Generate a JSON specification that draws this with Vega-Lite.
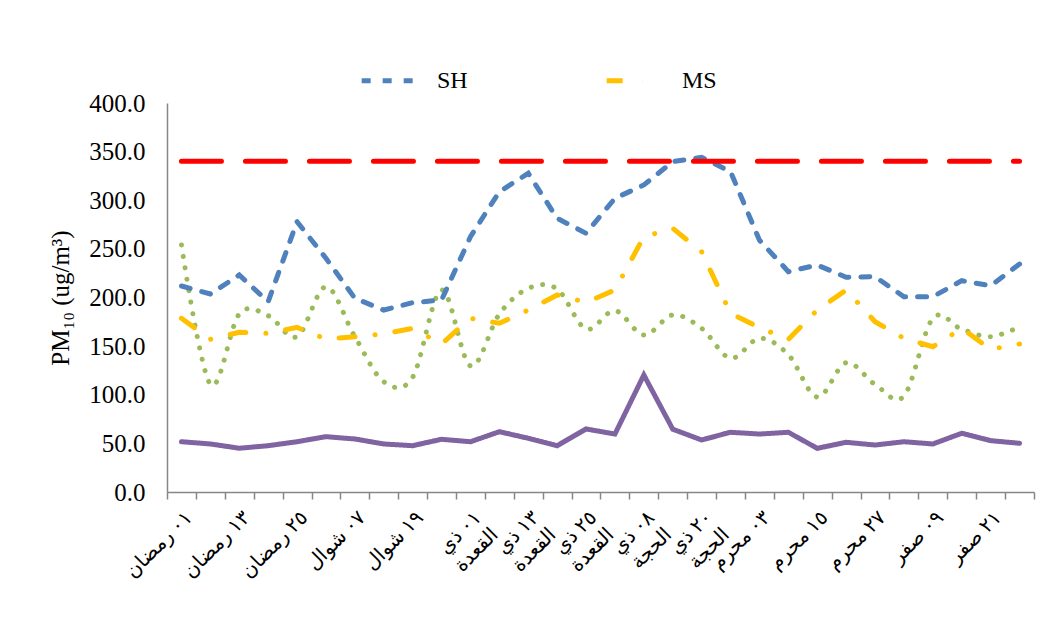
{
  "$schema": "https://vega.github.io/schema/vega-lite/v6.json",
  "width": 867,
  "height": 389,
  "autosize": {"type": "none"},
  "padding": {"left": 167, "top": 103, "right": 24, "bottom": 134},
  "background": "white",
  "config": {"view": {"stroke": null}, "font": "Liberation Serif"},
  "data": {
    "values": [
      {"date": "٠١ رمضان", "SH": 211.8, "MS": 178.6, "S3": 254, "S4": 51.7, "Limit": 340},
      {"date": "٠٧ رمضان", "SH": 203.6, "MS": 157, "S3": 110.7, "S4": 49.4, "Limit": 340},
      {"date": "١٣ رمضان", "SH": 223.1, "MS": 164.2, "S3": 183, "S4": 45, "Limit": 340},
      {"date": "١٩ رمضان", "SH": 195.7, "MS": 163.1, "S3": 181.3, "S4": 47.6, "Limit": 340},
      {"date": "٢٥ رمضان", "SH": 278, "MS": 169.3, "S3": 159.7, "S4": 51.7, "Limit": 340},
      {"date": "٠١ شوال", "SH": 240.3, "MS": 157.3, "S3": 211, "S4": 56.9, "Limit": 340},
      {"date": "٠٧ شوال", "SH": 199.2, "MS": 159.7, "S3": 159.7, "S4": 54.5, "Limit": 340},
      {"date": "١٣ شوال", "SH": 187.1, "MS": 162.5, "S3": 113.4, "S4": 49.4, "Limit": 340},
      {"date": "١٩ شوال", "SH": 194.7, "MS": 168.3, "S3": 118, "S4": 47.6, "Limit": 340},
      {"date": "٢٥ شوال", "SH": 197.4, "MS": 152.2, "S3": 207.7, "S4": 54.2, "Limit": 340},
      {"date": "٠١ ذي القعدة", "SH": 262.5, "MS": 178.6, "S3": 129.6, "S4": 51.7, "Limit": 340},
      {"date": "٠٧ ذي القعدة", "SH": 308.8, "MS": 173.5, "S3": 183, "S4": 62, "Limit": 340},
      {"date": "١٣ ذي القعدة", "SH": 327.7, "MS": 187.1, "S3": 209.4, "S4": 55.2, "Limit": 340},
      {"date": "١٩ ذي القعدة", "SH": 281.4, "MS": 202.6, "S3": 208.7, "S4": 47.6, "Limit": 340},
      {"date": "٢٥ ذي القعدة", "SH": 266, "MS": 195, "S3": 167.6, "S4": 64.8, "Limit": 340},
      {"date": "٠٢ ذي الحجة", "SH": 302, "MS": 207.7, "S3": 186.5, "S4": 59.6, "Limit": 340},
      {"date": "٠٨ ذي الحجة", "SH": 315.7, "MS": 262.5, "S3": 161.4, "S4": 120.3, "Limit": 340},
      {"date": "١٤ ذي الحجة", "SH": 339.7, "MS": 271.1, "S3": 182, "S4": 64.6, "Limit": 340},
      {"date": "٢٠ ذي الحجة", "SH": 344, "MS": 247.1, "S3": 168.3, "S4": 53.5, "Limit": 340},
      {"date": "٢٦ ذي الحجة", "SH": 329.4, "MS": 183.7, "S3": 137.5, "S4": 61.4, "Limit": 340},
      {"date": "٠٣ محرم", "SH": 259, "MS": 169, "S3": 158, "S4": 59.6, "Limit": 340},
      {"date": "٠٩ محرم", "SH": 226.6, "MS": 157, "S3": 141.2, "S4": 61.4, "Limit": 340},
      {"date": "١٥ محرم", "SH": 233.4, "MS": 187.1, "S3": 97.7, "S4": 44.9, "Limit": 340},
      {"date": "٢١ محرم", "SH": 220.8, "MS": 207.7, "S3": 133, "S4": 51.1, "Limit": 340},
      {"date": "٢٧ محرم", "SH": 221.4, "MS": 175.1, "S3": 110.7, "S4": 48.3, "Limit": 340},
      {"date": "٠٣ صفر", "SH": 200.8, "MS": 158, "S3": 98.7, "S4": 51.7, "Limit": 340},
      {"date": "٠٩ صفر", "SH": 200.8, "MS": 149.4, "S3": 178.6, "S4": 49.4, "Limit": 340},
      {"date": "١٥ صفر", "SH": 217.3, "MS": 168.3, "S3": 167.3, "S4": 60.4, "Limit": 340},
      {"date": "٢١ صفر", "SH": 212.1, "MS": 146.7, "S3": 159.7, "S4": 52.8, "Limit": 340},
      {"date": "٢٧ صفر", "SH": 234.4, "MS": 152.2, "S3": 170, "S4": 50.1, "Limit": 340}
    ]
  },
  "encoding": {
    "x": {
      "field": "date",
      "type": "nominal",
      "sort": null,
      "scale": {"type": "band", "paddingInner": 0, "paddingOuter": 0},
      "axis": {
        "title": null,
        "labelAngle": -45,
        "labelFontSize": 20,
        "labelLineHeight": 24,
        "labelFont": "Liberation Serif, DejaVu Sans",
        "labelColor": "black",
        "tickBand": "extent",
        "tickSize": 7,
        "tickColor": "#868686",
        "tickWidth": 1.5,
        "domainColor": "#868686",
        "domainWidth": 1.5,
        "labelPadding": 8,
        "labelOverlap": false,
        "labelBound": false,
        "grid": false,
        "labelExpr": "!isString(datum.value) || round(datum.index * 29) % 2 == 1 ? '' : split(replace(datum.value, regexp('^(\\\\S+ \\\\S+) '), '$1|'), '|')"
      }
    },
    "y": {
      "field": "value",
      "type": "quantitative",
      "scale": {"domain": [0, 400], "nice": false},
      "axis": {
        "title": "PM₁₀ (ug/m³)",
        "titleFontSize": 25,
        "titleFont": "Liberation Serif",
        "titleFontWeight": "normal",
        "titleColor": "black",
        "titlePadding": 15,
        "labelFontSize": 25,
        "labelFont": "Liberation Serif",
        "labelColor": "black",
        "values": [0, 50, 100, 150, 200, 250, 300, 350, 400],
        "format": ".1f",
        "ticks": false,
        "labelPadding": 22,
        "domainColor": "#868686",
        "domainWidth": 1.5,
        "grid": false
      }
    },
    "color": {
      "field": "series",
      "type": "nominal",
      "scale": {
        "domain": ["SH", "MS", "S3", "S4", "Limit"],
        "range": ["#4F81BD", "#FFC000", "#9BBB59", "#8064A2", "#FF0000"]
      },
      "legend": {
        "values": ["SH", "MS"],
        "title": null,
        "orient": "none",
        "legendX": 192,
        "legendY": -53,
        "direction": "horizontal",
        "symbolType": "stroke",
        "symbolSize": 3100,
        "symbolStrokeWidth": 5,
        "labelFontSize": 24,
        "labelFont": "Liberation Serif",
        "labelColor": "black",
        "labelOffset": 17,
        "columnPadding": 128
      }
    },
    "strokeDash": {
      "field": "series",
      "type": "nominal",
      "scale": {
        "domain": ["SH", "MS", "S3", "S4", "Limit"],
        "range": [[9, 12], [16, 20, 0.1, 20], [0.1, 11.5], [1, 0], [40, 24]]
      },
      "legend": {
        "values": ["SH", "MS"],
        "title": null,
        "orient": "none",
        "legendX": 192,
        "legendY": -53,
        "direction": "horizontal",
        "symbolType": "stroke",
        "symbolSize": 3100,
        "symbolStrokeWidth": 5,
        "labelFontSize": 24,
        "labelFont": "Liberation Serif",
        "labelColor": "black",
        "labelOffset": 17,
        "columnPadding": 128
      }
    }
  },
  "layer": [
    {
      "transform": [{"fold": ["S3"], "as": ["series", "value"]}],
      "mark": {"type": "line", "interpolate": "cardinal", "strokeWidth": 5, "strokeCap": "round"}
    },
    {
      "transform": [{"fold": ["SH", "MS", "S4", "Limit"], "as": ["series", "value"]}],
      "mark": {"type": "line", "strokeWidth": 5, "strokeCap": "round"}
    }
  ]
}
